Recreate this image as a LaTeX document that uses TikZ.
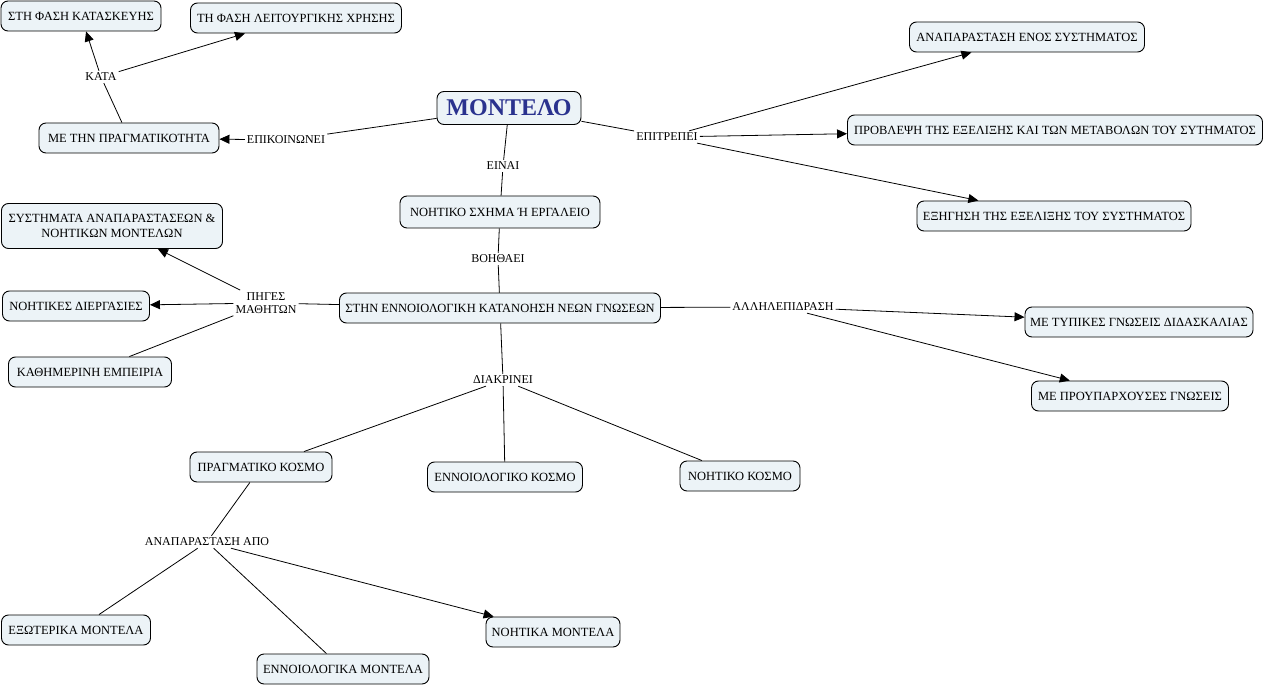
\documentclass[tikz,border=0pt]{standalone}
\usepackage{fontspec}
\setmainfont{Liberation Serif}
\usetikzlibrary{arrows.meta}
\definecolor{boxfill}{RGB}{236,243,247}
\definecolor{titleblue}{RGB}{42,50,142}
\begin{document}
\begin{tikzpicture}[x=1pt,y=-1pt,
  concept/.style={draw=black, line width=0.9pt, fill=boxfill, rounded corners=7pt,
    minimum height=30pt, inner sep=2pt, font=\fontsize{12.5}{14.5}\selectfont, align=center},
  linkphrase/.style={inner sep=2pt, font=\fontsize{12}{13.5}\selectfont, align=center},
  conn/.style={line width=0.8pt},
  arr/.style={conn, -{Triangle[length=10pt,width=9pt]}}]
\useasboundingbox (0,0) rectangle (1266,687);

% concepts
\node[concept, minimum width=160pt] (kat) at (81,16) {ΣΤΗ ΦΑΣΗ ΚΑΤΑΣΚΕΥΗΣ};
\node[concept, minimum width=211pt] (leit) at (296,18) {ΤΗ ΦΑΣΗ ΛΕΙΤΟΥΡΓΙΚΗΣ ΧΡΗΣΗΣ};
\node[concept, minimum width=180pt] (prag) at (129,138) {ΜΕ ΤΗΝ ΠΡΑΓΜΑΤΙΚΟΤΗΤΑ};
\node[concept, minimum width=144pt, minimum height=33pt, text=titleblue,
      font=\fontsize{24}{27}\bfseries\selectfont] (mod) at (509,108) {ΜΟΝΤΕΛΟ};
\node[concept, minimum width=235pt] (anap) at (1027,37) {ΑΝΑΠΑΡΑΣΤΑΣΗ ΕΝΟΣ ΣΥΣΤΗΜΑΤΟΣ};
\node[concept, minimum width=415pt] (prov) at (1055,130) {ΠΡΟΒΛΕΨΗ ΤΗΣ ΕΞΕΛΙΞΗΣ ΚΑΙ ΤΩΝ ΜΕΤΑΒΟΛΩΝ ΤΟΥ ΣΥΤΗΜΑΤΟΣ};
\node[concept, minimum width=274pt] (exig) at (1054,216) {ΕΞΗΓΗΣΗ ΤΗΣ ΕΞΕΛΙΞΗΣ ΤΟΥ ΣΥΣΤΗΜΑΤΟΣ};
\node[concept, minimum width=200pt, minimum height=32pt] (sxima) at (500,212) {ΝΟΗΤΙΚΟ ΣΧΗΜΑ Ή ΕΡΓΑΛΕΙΟ};
\node[concept, minimum width=221pt, minimum height=45pt] (syst) at (112,226) {ΣΥΣΤΗΜΑΤΑ ΑΝΑΠΑΡΑΣΤΑΣΕΩΝ \&\\ΝΟΗΤΙΚΩΝ ΜΟΝΤΕΛΩΝ};
\node[concept, minimum width=147pt] (dierg) at (76,306) {ΝΟΗΤΙΚΕΣ ΔΙΕΡΓΑΣΙΕΣ};
\node[concept, minimum width=163pt] (kath) at (90,372) {ΚΑΘΗΜΕΡΙΝΗ ΕΜΠΕΙΡΙΑ};
\node[concept, minimum width=321pt] (kata) at (500,308) {ΣΤΗΝ ΕΝΝΟΙΟΛΟΓΙΚΗ ΚΑΤΑΝΟΗΣΗ ΝΕΩΝ ΓΝΩΣΕΩΝ};
\node[concept, minimum width=228pt] (typ) at (1139,322) {ΜΕ ΤΥΠΙΚΕΣ ΓΝΩΣΕΙΣ ΔΙΔΑΣΚΑΛΙΑΣ};
\node[concept, minimum width=197pt] (prou) at (1130,396) {ΜΕ ΠΡΟΥΠΑΡΧΟΥΣΕΣ ΓΝΩΣΕΙΣ};
\node[concept, minimum width=142pt] (pk) at (261,467) {ΠΡΑΓΜΑΤΙΚΟ ΚΟΣΜΟ};
\node[concept, minimum width=155pt] (ek) at (505,477) {ΕΝΝΟΙΟΛΟΓΙΚΟ ΚΟΣΜΟ};
\node[concept, minimum width=120pt] (nk) at (740,476) {ΝΟΗΤΙΚΟ ΚΟΣΜΟ};
\node[concept, minimum width=149pt] (exm) at (76,630) {ΕΞΩΤΕΡΙΚΑ ΜΟΝΤΕΛΑ};
\node[concept, minimum width=172pt] (enm) at (343,669) {ΕΝΝΟΙΟΛΟΓΙΚΑ ΜΟΝΤΕΛΑ};
\node[concept, minimum width=134pt] (nom) at (553,632) {ΝΟΗΤΙΚΑ ΜΟΝΤΕΛΑ};

% linking phrases
\node[linkphrase] (lkata) at (101,77) {ΚΑΤΑ};
\node[linkphrase] (lepik) at (286,140) {ΕΠΙΚΟΙΝΩΝΕΙ};
\node[linkphrase] (leinai) at (503,166) {ΕΙΝΑΙ};
\node[linkphrase] (lepitr) at (667,137) {ΕΠΙΤΡΕΠΕΙ};
\node[linkphrase] (lvoith) at (498,259) {ΒΟΗΘΑΕΙ};
\node[linkphrase] (lpiges) at (266,303) {ΠΗΓΕΣ\\ΜΑΘΗΤΩΝ};
\node[linkphrase] (lallil) at (783,307) {ΑΛΛΗΛΕΠΙΔΡΑΣΗ};
\node[linkphrase] (ldiak) at (503,380) {ΔΙΑΚΡΙΝΕΙ};
\node[linkphrase] (lanap) at (207,542) {ΑΝΑΠΑΡΑΣΤΑΣΗ ΑΠΟ};

% connectors
\draw[conn] (prag) -- (lkata);
\draw[arr] (lkata) -- (kat);
\draw[arr] (lkata) -- (leit);

\draw[conn] (mod) -- (lepik);
\draw[arr] (lepik) -- (prag);

\draw[conn] (mod) -- (leinai);
\draw[conn] (leinai) -- (sxima);

\draw[conn] (mod) -- (lepitr);
\draw[arr] (lepitr) -- (anap);
\draw[arr] (lepitr) -- (prov);
\draw[arr] (lepitr) -- (exig);

\draw[conn] (sxima) -- (lvoith);
\draw[conn] (lvoith) -- (kata);

\draw[conn] (kata) -- (lpiges);
\draw[arr] (lpiges) -- (syst);
\draw[arr] (lpiges) -- (dierg);
\draw[conn] (lpiges) -- (kath);

\draw[conn] (kata) -- (lallil);
\draw[arr] (lallil) -- (typ);
\draw[arr] (lallil) -- (prou);

\draw[conn] (kata) -- (ldiak);
\draw[conn] (ldiak) -- (pk);
\draw[conn] (ldiak) -- (ek);
\draw[conn] (ldiak) -- (nk);

\draw[conn] (pk) -- (lanap);
\draw[conn] (lanap) -- (exm);
\draw[conn] (lanap) -- (enm);
\draw[arr] (lanap) -- (nom);
\end{tikzpicture}
\end{document}
